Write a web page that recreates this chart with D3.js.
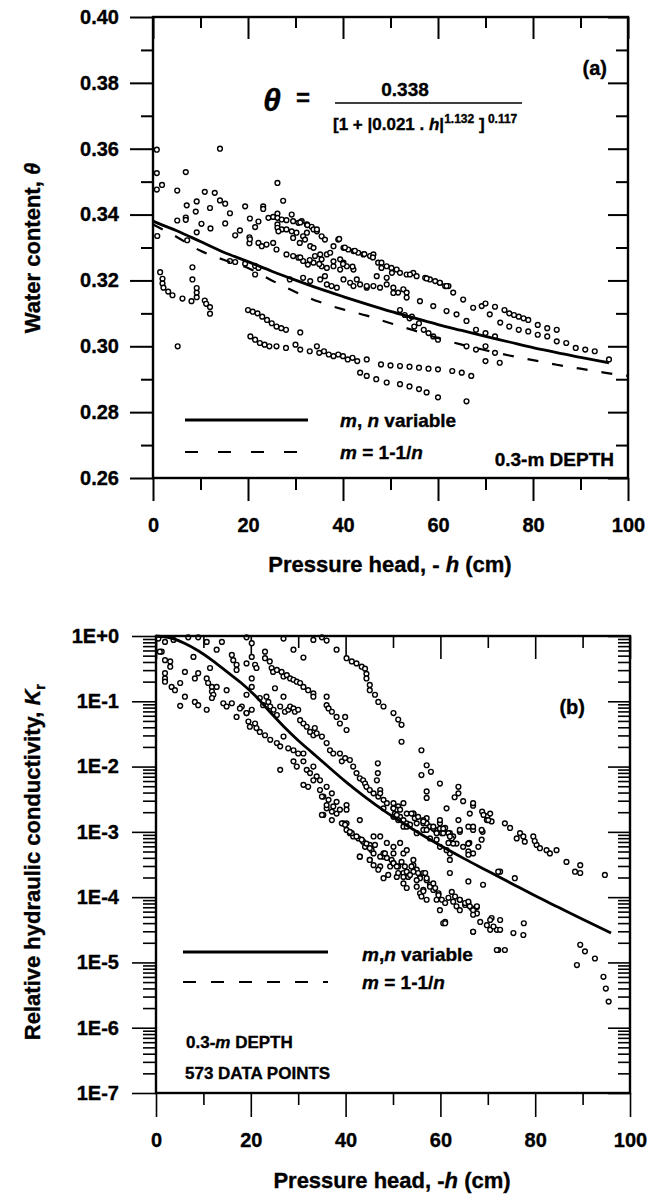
<!DOCTYPE html>
<html><head><meta charset="utf-8">
<script src="https://cdn.jsdelivr.net/npm/d3@7"></script>
<style>
body{margin:0;background:#fff}
svg{display:block}
text{font-family:"Liberation Sans",Arial,sans-serif;font-weight:bold;fill:#000;stroke:#000;stroke-width:0.35px}
</style>
</head><body>
<svg id="c" width="649" height="1196"></svg>
<script>
// ---------------- DATA ----------------
const hTicks = [0,20,40,60,80,100];
const hMinor = [10,30,50,70,90];
const thetaTicks = [0.26,0.28,0.30,0.32,0.34,0.36,0.38,0.40];
const thetaMinor = [0.27,0.29,0.31,0.33,0.35,0.37,0.39];
const kTickExp = [0,-1,-2,-3,-4,-5,-6,-7];
const kTickLabels = ["1E+0","1E-1","1E-2","1E-3","1E-4","1E-5","1E-6","1E-7"];

// panel (a) curves
const curveAh = [0,2,5,10,15,20,25,30,35,40,45,50,55,60,65,70,75,80,85,90,96];
const curveAsolid = [0.338,0.3368,0.3351,0.3318,0.3285,0.3257,0.3228,0.3201,0.3175,0.3151,0.3128,0.3106,0.3086,0.3066,0.3048,0.3030,0.3013,0.2996,0.2981,0.2966,0.2950];
const curveAdh = [0,5,10,15,20,25,30,35,40,45,50,55,60,65,70,75,80,85,90,95,100];
const curveAdashed = [0.337,0.3332,0.3290,0.3262,0.3238,0.3200,0.3165,0.3135,0.3112,0.3093,0.3070,0.3048,0.3025,0.3005,0.2988,0.2972,0.2958,0.2944,0.2932,0.2920,0.2910];

// panel (a) measured points [h, theta]
const pointsA = [
[0.8,.3597],[14.1,.3600],[0.8,.3526],[6.9,.3529],[0.8,.3476],[1.9,.3490],[5.1,.3473],[10.9,.3469],[13.0,.3466],[14.1,.3443],[9.2,.3440],[7.1,.3428],[12.0,.3420],[15.2,.3433],[16.2,.3404],[19.4,.3425],[23.2,.3425],[23.2,.3417],[27.4,.3442],[26.2,.3496],[5.1,.3382],[6.9,.3391],[6.9,.3384],[9.0,.3409],[10.2,.3372],[12.1,.3358],[9.2,.3346],[15.2,.3373],[20.4,.3388],[22.2,.3379],[21.5,.3362],[17.3,.3337],[18.3,.3352],[20.3,.3331],[20.3,.3313],
[0.9,.3335],[1.5,.3225],[2.0,.3205],[2.0,.3191],[2.2,.3178],[3.2,.3166],[4.1,.3155],[6.2,.3145],[7.2,.3322],[8.3,.3240],[8.3,.3203],[8.1,.3137],[9.2,.3149],[9.2,.3163],[9.2,.3177],[10.9,.3139],[11.2,.3129],[12.0,.3119],[12.0,.3099],[5.2,.3000],
[16.2,.3259],[17.3,.3256],[19.4,.3251],[21.5,.3244],[20.4,.3325],[22.2,.3314],[22.9,.3304],[23.9,.3309],[25.3,.3314],[26.0,.3294],[28.1,.3279],[29.5,.3274],[30.6,.3269],[31.6,.3259],[32.6,.3248],[33.8,.3254],[22.2,.3238],[21.5,.3218],[28.8,.3203],[31.6,.3208],[33.1,.3198],[35.2,.3203],
[24.3,.3390],[25.3,.3393],[26.2,.3403],[26.2,.3390],[26.2,.3370],[26.2,.3360],[27.1,.3385],[28.1,.3383],[29.2,.3400],[29.5,.3380],[30.6,.3375],[31.3,.3380],[32.4,.3370],[33.4,.3363],[33.8,.3355],[34.5,.3349],[35.5,.3334],[36.2,.3324],[32.4,.3345],[31.6,.3334],[30.2,.3345],[29.2,.3349],[27.1,.3355],[26.4,.3349],[28.1,.3355],[29.5,.3329],[30.9,.3314],[32.0,.3324],[33.1,.3304],[33.8,.3299],[34.1,.3274],[35.2,.3279],[35.5,.3264],[36.6,.3279],[37.3,.3284],[38.0,.3304],[39.0,.3324],[40.1,.3299],[41.1,.3294],[42.2,.3289],[43.2,.3284],[44.3,.3279],[45.7,.3274],[46.4,.3279],[47.4,.3254],[48.1,.3254],[49.2,.3243],[50.2,.3238],[51.3,.3233],[52.0,.3223],[53.4,.3218],[54.8,.3223],[55.5,.3213],[57.3,.3208],[58.3,.3203],[59.4,.3198],[60.4,.3193],[61.5,.3183],[62.2,.3183],[39.4,.3264],[40.1,.3254],[40.8,.3243],[42.2,.3233],[39.4,.3233],[38.0,.3243],[36.6,.3238],[35.5,.3243],[36.2,.3213],[36.6,.3188],[37.6,.3183],[38.7,.3178],[40.1,.3203],[41.5,.3193],[42.2,.3183],[43.6,.3188],[45.0,.3178],[46.4,.3183],[47.1,.3213],[49.2,.3208],[49.2,.3188],[50.6,.3178],[52.7,.3173],[53.4,.3163],[51.6,.3163],
[31,.3376],[32.5,.3368],[34.5,.3355],[39.2,.3326],[40.4,.3300],[42.5,.3290],[44.5,.3280],[46.3,.3270],[48.1,.3238],[50.3,.3223],[54.1,.3218],[57.6,.3206],[60.4,.3193],[61.8,.3183],[63.2,.3163],[65.3,.3142],[67.4,.3117],[69.2,.3122],[70.9,.3097],[73.1,.3072],
[31,.3270],[33,.3262],[35,.3250],[38,.3258],[40,.3250],[42,.3242],[42.9,.3203],[45,.3183],[47.8,.3178],[50.6,.3162],[53.4,.3148],[56.2,.3137],[59,.3122],[61.8,.3107],[63.9,.3097],[66,.3077],
[52,.3110],[53,.3095],[54,.3085],[55,.3060],[54.5,.3090],[56,.3070],[57,.3050],[58,.3040],[59,.3030],[60,.3020],
[34.5,.3000],[36,.2985],[38,.2970],[40,.2970],[42,.2965],[45,.2960],[48,.2945],[50,.2942],[52,.2940],[54,.2938],[56,.2935],[58,.2932],[60,.2930],[63,.2925],[65,.2920],[67,.2910],
[43.6,.2920],[45,.2910],[47,.2900],[49.2,.2890],[52,.2885],[54,.2878],[56,.2870],[57.6,.2860],[60,.2845],[66,.2833],[31,.3042],
[70,.3000],[72,.2980],[75,.3060],[77,.3050],[79,.3045],[81,.3035],[83,.3030],[85,.3015],[87,.3010],[89,.2995],[91,.2990],[93,.2985],[96,.2960],[75,.3100],[77,.3090],[79,.3080],[81,.3065],[83,.3055],[85,.3050],[70,.3130],[72,.3120],[74,.3110],[76,.3095],[78,.3085],[68,.3050],[70,.3040],[72,.3030],[66,.3000],[68,.2990],[70,.2955],[73,.2950],
[20,.3110],[21,.3105],[22,.3100],[23,.3090],[24,.3080],[25,.3070],[26,.3060],[27,.3055],[28,.3050],[20.5,.3030],[21.5,.3020],[22.5,.3010],[23.5,.3005],[24.5,.3000],[26,.3000],[28,.2995],[30,.3005],[31,.2990],[33,.2985],[35,.2980],[37,.2975],[39,.2975],[41,.2960],[43,.2955]
];

// panel (b) curve: h and log10(Kr)
const curveBh = [0,3,6,9,12,15,18,21,24,27,30,33,36,40,44,48,52,56,60,65,70,75,80,85,90,96];
const curveBlogK = [0,-0.03,-0.11,-0.23,-0.38,-0.55,-0.72,-0.92,-1.16,-1.39,-1.60,-1.79,-1.98,-2.23,-2.46,-2.67,-2.86,-3.04,-3.21,-3.41,-3.60,-3.79,-3.98,-4.16,-4.34,-4.55];

// panel (b) measured points [h, log10(Kr)]
const pointsB = [
[0.5,-0.04],[1.9,-0.09],[3.7,-0.06],[6.8,-0.02],[8.9,-0.02],[10.7,-0.09],[13.9,-0.09],[19.1,-0.02],[20.2,-0.11],[26.9,-0.04],[33.2,-0.06],[35,-0.02],[36,-0.07],[1.2,-0.24],[12.8,-0.21],[29,-0.21],[31.1,-0.33],[38.1,-0.21],
[0.8,-0.24],[1.9,-0.37],[3,-0.39],[3,-0.47],[1.9,-0.57],[1.9,-0.65],[1.9,-0.70],[3.3,-0.78],[4,-0.83],[5.1,-0.72],[6.1,-0.55],[8.2,-0.65],[8.9,-0.57],[10.7,-0.65],[11,-0.72],[11.8,-0.78],[12.8,-0.78],[11.8,-0.85],[12.1,-0.90],[11.8,-0.95],[14.9,-0.83],[11.4,-0.49],[7.9,-0.32],[5.1,-1.07],[6.1,-0.93],[8.2,-1.01],[8.9,-1.06],[10.7,-1.13],[14.2,-1.03],[14.9,-1.08],[16,-1.03],[17,-1.24],[18.1,-1.08],[19.1,-1.18],[20.2,-1.13],
[16,-0.29],[16.3,-0.37],[17,-0.44],[17,-0.52],[19.1,-0.42],[20.2,-0.32],[20.2,-0.65],[20.9,-0.44],[21.2,-0.49],[23,-0.24],[23,-0.34],[24,-0.39],[24.4,-0.49],[24.7,-0.55],[25.5,-0.52],[26.5,-0.55],[26.9,-0.62],[27.6,-0.60],[28.3,-0.65],[29,-0.67],[29.7,-0.70],[30.4,-0.72],[31.1,-0.78],[32.1,-0.83],[33.2,-0.88],[33.2,-0.93],
[40.2,-0.34],[41.3,-0.39],[42.3,-0.42],[43.4,-0.47],[44.1,-0.50],[44.4,-0.58],[44.4,-0.65],[45.1,-0.75],[45.1,-0.83],[46.2,-0.90],[46.9,-1.01],[48,-1.08],[50.1,-1.18],[51.1,-1.28],[51.8,-1.36],[51.8,-1.62],[56,-1.75],[57.1,-1.98],[58,-2.08],[56,-2.13],[59.9,-2.26],[57.1,-2.38],[57.1,-2.48],[63.8,-2.31],[63.8,-2.41],[63,-2.47],[64.8,-2.53],[66.9,-2.60],[68.8,-2.69],[69.9,-2.76],[70.8,-2.84],[73.6,-2.87],[74.7,-2.94],[76.1,-3.10],[76.8,-3.02],[77.5,-3.07],[77.8,-3.15],[79.6,-3.07],[80.3,-3.20],[79.9,-3.14],[81,-3.25],[82.4,-3.28],[84.5,-3.28],[83.1,-3.33],[86.6,-3.46],[88.4,-3.61],[89.5,-3.51],[89.5,-3.63],[94.7,-3.66],[89.5,-4.73],[90.5,-4.83],[92.6,-4.94],[88.8,-5.04],[94.4,-5.22],[94.9,-5.40],[95.5,-5.60],
[47.3,-2.36],[48,-2.64],[48.7,-2.56],[50.1,-2.64],[51.1,-2.61],[50.4,-2.72],[51.5,-2.77],[52.2,-2.56],[52.9,-2.87],[54.3,-2.72],[54.6,-2.79],[56.4,-2.87],[57.1,-2.79],[57.8,-2.92],[58.9,-2.97],[59.9,-2.87],[60.3,-3.02],[61,-2.94],[61.3,-2.64],[62,-3.02],[61.7,-3.17],[62,-3.33],[62,-3.43],[62,-3.63],[64.1,-3.00],[65.9,-2.92],[66.1,-3.17],[65.9,-3.30],[66.9,-3.33],[68,-3.23],[68.9,-3.00],[65.9,-3.76],[69,-3.81],[72.6,-3.61],[75.7,-3.71],[72.2,-3.61],
[47.3,-3.07],[48.7,-3.17],[50.1,-3.23],[51.5,-3.17],[52.2,-3.33],[52.9,-3.28],[54.3,-3.43],[48,-3.38],[49.4,-3.53],[50.8,-3.69],[52.2,-3.63],[54.3,-3.51],[55,-3.58],[55.7,-3.69],[56.4,-3.63],[57.1,-3.74],[57.8,-3.81],[58.5,-3.89],[56.4,-3.89],[59.6,-3.94],[59.2,-4.04],[59.9,-4.20],[61,-4.38],[62.4,-3.92],[63.1,-3.99],[64.1,-4.04],[65.2,-4.12],[65.9,-4.09],[66.6,-4.17],[67.7,-4.15],[67.7,-4.25],[68.4,-4.38],[69.8,-4.43],[70.5,-4.50],[71.9,-4.50],[70.8,-4.32],[72.6,-4.35],[72.2,-4.81],[73.6,-4.81],[75.4,-4.55],[77.5,-4.58],[77.6,-4.40],[66.9,-4.53],[60.6,-4.40],
[19.1,-0.90],[20.2,-0.78],[21.9,-0.95],[22.6,-1.06],[23.3,-0.93],[23.7,-1.01],[24.1,-1.08],[24.8,-1.13],[25.1,-0.80],[25.5,-1.21],[26.2,-1.08],[26.9,-0.93],[27.2,-1.16],[27.9,-1.13],[28.3,-1.08],[29,-1.11],[29.3,-1.16],[30,-1.13],[30.4,-1.29],[31.1,-1.34],[31.8,-1.39],[32.5,-1.47],[33.2,-1.52],[33.5,-1.41],[33.9,-1.49],[35,-1.54],[36,-0.93],[36,-1.06],[36.4,-1.11],[37.1,-1.16],[38.1,-1.24],[38.8,-1.34],[39.9,-1.24],[40.2,-1.44],[36,-1.64],[36.7,-1.75],[37.4,-1.80],[38.8,-1.80],[39.2,-1.92],[39.9,-1.87],[40.9,-1.90],[41.6,-2.00],[42.3,-2.10],[43,-2.18],[43.7,-2.21],[44.1,-2.26],[44.4,-2.31],[45.1,-2.36],[45.9,-2.41],[46.6,-2.21],[46.8,-2.10],[46.8,-1.95],[46.9,-2.46],[47.3,-2.41],[48,-2.51],
[17.7,-1.11],[19.1,-1.18],[19.5,-1.31],[19.8,-1.39],[20.9,-1.34],[21.2,-1.41],[21.9,-1.47],[23,-1.52],[24.1,-1.59],[25.5,-1.64],[26.2,-1.69],[26.9,-1.54],[27.9,-1.72],[29,-1.75],[30,-1.80],[31.1,-1.80],[26.2,-2.05],[29,-1.92],[29.7,-2.00],[31.1,-1.92],[31.8,-2.05],[32.5,-2.10],[33.2,-2.00],[33.9,-2.15],[34.6,-2.21],[33.2,-2.21],[36,-2.31],[31.1,-2.28],[32.1,-2.31],[34.6,-2.36],[35.3,-2.46],[36.4,-2.51],[37.1,-2.41],[37.4,-2.61],[36,-2.64],[38.1,-2.72],[38.8,-2.66],[39.5,-2.87],[40.2,-2.87],[40.2,-2.97],[40.9,-3.02],[41.6,-3.07],[42.7,-3.10],[43.7,-3.15],[44.1,-3.23],[45.1,-3.20],[45.5,-3.28],[45.9,-3.33],[43,-3.38],[45.1,-3.43],[45.9,-3.51],[47.3,-3.38],[48,-3.33],[48.7,-3.40],[49.7,-3.43],[50.1,-3.48],[51.1,-3.53],[51.8,-3.46],[52.5,-3.53],[52.9,-3.61],[53.2,-3.69],[54.3,-3.61],[55.3,-3.63],[55.7,-3.71],[56.8,-3.63],[57.1,-3.71],[35.3,-2.74],[37.1,-2.82],[35,-2.46],
[50.1,-2.56],[50.8,-2.66],[51.5,-2.66],[52.9,-2.72],[54.3,-2.72],[55.3,-2.77],[56.4,-2.82],[57.1,-2.87],[57.8,-2.92],[58.5,-2.95],[59.9,-2.95],[60.6,-3.02],[61.7,-3.02],[62.7,-3.07],[50.1,-2.77],[51.1,-2.82],[52.2,-2.92],[53.6,-2.89],[55,-3.02],[56.4,-2.97],[57.8,-3.10],[59.2,-3.12],[59.9,-3.23],[61.3,-3.28],[62.4,-3.10],[63.4,-3.18],[64.8,-3.23],[65.9,-3.18],[66.9,-2.97],[68.7,-3.12],[70.5,-2.72],[69.8,-2.82],
[35,-2.74],[36,-2.59],[37.1,-2.69],[38.1,-2.54],[40.2,-2.59],[40.2,-2.66],[39.2,-2.87],[39.9,-2.89],[43,-2.82],[41.3,-3.02],[40.9,-3.00],[42.3,-3.07],[43.4,-3.12],[44.4,-3.18],[43,-3.38],[45.1,-3.25],[45.1,-3.43],[45.9,-3.07],[46.2,-3.20],[47.3,-3.53],[46.9,-3.58],[48,-3.71],[49,-3.66],[48.3,-3.33],[50.1,-3.33],[50.1,-3.48],[50.8,-3.53],[51.1,-3.63],[52.2,-3.69],[52.2,-3.79],[52.9,-3.86],[53.6,-3.66],[53.9,-3.53],[55,-3.74],[55,-3.84],[55.7,-3.94],[56,-3.99],[56.4,-3.91],[57.1,-4.04],[57.8,-3.84],[58.5,-3.79],[58.9,-3.86],[59.6,-3.97],[60.3,-4.04],[61,-4.09],[61.7,-4.01],[62.7,-4.07],[63.4,-4.14],[64.1,-4.20],[65.2,-4.09],[66.2,-4.14],[66.9,-4.20],[67.7,-4.14],[66.9,-4.27],[61,-4.40],[64.1,-4.04],[65.9,-4.07],[66.9,-4.53],[70.5,-4.35],[71.2,-4.45],[72.6,-4.50],[71.9,-4.81],
[50.1,-2.64],[50.8,-2.74],[52.2,-2.82],[52.9,-2.92],[53.9,-2.72],[55,-2.87],[56.4,-2.84],[57.1,-2.97],[58.5,-2.92],[59.2,-3.02],[59.9,-2.82],[60.6,-2.95],[62,-3.07],[62.7,-3.18],[63.8,-2.82],[64.1,-2.97],[65.9,-3.18],[65.9,-3.35],[66.9,-2.92],[68.7,-2.97],[69.1,-2.74],[70.1,-2.82],[66.9,-2.56],[66.2,-2.72]
];

// ---------------- DRAW ----------------
const svg = d3.select("#c");
const FONT = 20;

function styleAxis(g){
  g.select(".domain").remove();
  g.selectAll("line").attr("stroke","#000").attr("stroke-width",2);
  g.selectAll("text").style("font-size",FONT+"px").style("font-weight","bold");
}

function frame(x0,x1,y0,y1){
  svg.append("rect").attr("x",x0).attr("y",y0).attr("width",x1-x0).attr("height",y1-y0)
    .attr("fill","none").attr("stroke","#000").attr("stroke-width",2.4);
}

// ===== Panel (a) =====
const xA = d3.scaleLinear().domain([0,100]).range([153,628]);
const yA = d3.scaleLinear().domain([0.26,0.40]).range([478,17]);
const gA = svg.append("g");

gA.append("g").attr("transform",`translate(${xA(0)},0)`)
  .call(d3.axisLeft(yA).tickValues(thetaTicks).tickSize(23).tickPadding(11).tickFormat(d3.format(".2f"))).call(styleAxis);
gA.append("g").attr("transform",`translate(${xA(0)},0)`)
  .call(d3.axisLeft(yA).tickValues(thetaMinor).tickSize(12).tickFormat("")).call(styleAxis);
gA.append("g").attr("transform",`translate(${xA(100)},0)`)
  .call(d3.axisLeft(yA).tickValues(thetaTicks).tickSize(20).tickFormat("")).call(styleAxis);
gA.append("g").attr("transform",`translate(${xA(100)},0)`)
  .call(d3.axisLeft(yA).tickValues(thetaMinor).tickSize(12).tickFormat("")).call(styleAxis);
gA.append("g").attr("transform",`translate(0,${yA(0.26)})`)
  .call(d3.axisBottom(xA).tickValues(hTicks).tickSize(23).tickPadding(17).tickFormat(d3.format("d"))).call(styleAxis);
gA.append("g").attr("transform",`translate(0,${yA(0.26)})`)
  .call(d3.axisBottom(xA).tickValues(hMinor).tickSize(12).tickFormat("")).call(styleAxis);
gA.append("g").attr("transform",`translate(0,${yA(0.40)})`)
  .call(d3.axisBottom(xA).tickValues(hTicks).tickSize(22).tickFormat("")).call(styleAxis);
gA.append("g").attr("transform",`translate(0,${yA(0.40)})`)
  .call(d3.axisBottom(xA).tickValues(hMinor).tickSize(11).tickFormat("")).call(styleAxis);
frame(xA(0),xA(100),yA(0.40),yA(0.26));

gA.append("g").selectAll("circle").data(pointsA).join("circle")
  .attr("cx",d=>xA(d[0])).attr("cy",d=>yA(d[1])).attr("r",2.4)
  .attr("fill","#fff").attr("stroke","#000").attr("stroke-width",1.4);

const lineA = d3.line().x(d=>xA(d[0])).y(d=>yA(d[1])).curve(d3.curveMonotoneX);
gA.append("path").attr("d",lineA(curveAh.map((h,i)=>[h,curveAsolid[i]])))
  .attr("fill","none").attr("stroke","#000").attr("stroke-width",2.8);
gA.append("path").attr("d",lineA(curveAdh.map((h,i)=>[h,curveAdashed[i]])))
  .attr("fill","none").attr("stroke","#000").attr("stroke-width",2.2).attr("stroke-dasharray","11,14");

// legend (a)
gA.append("line").attr("x1",185).attr("x2",308).attr("y1",420).attr("y2",420).attr("stroke","#000").attr("stroke-width",2.8);
gA.append("line").attr("x1",185).attr("x2",308).attr("y1",452).attr("y2",452).attr("stroke","#000").attr("stroke-width",2.2).attr("stroke-dasharray","13,20");
const tA1 = gA.append("text").attr("x",340).attr("y",427).style("font-size","19px");
tA1.append("tspan").style("font-style","italic").text("m");
tA1.append("tspan").text(", ");
tA1.append("tspan").style("font-style","italic").text("n");
tA1.append("tspan").text(" variable");
const tA2 = gA.append("text").attr("x",340).attr("y",459).style("font-size","19px");
tA2.append("tspan").style("font-style","italic").text("m");
tA2.append("tspan").text(" = 1-1/");
tA2.append("tspan").style("font-style","italic").text("n");
gA.append("text").attr("x",614).attr("y",466).attr("text-anchor","end").style("font-size","19px").text("0.3-m DEPTH");
gA.append("text").attr("x",607).attr("y",75).attr("text-anchor","end").style("font-size","20px").text("(a)");

// equation
gA.append("text").attr("x",272).attr("y",111).attr("text-anchor","middle").style("font-size","32px").style("font-style","italic").text("θ");
gA.append("text").attr("x",303).attr("y",106).attr("text-anchor","middle").style("font-size","24px").text("=");
gA.append("line").attr("x1",335).attr("x2",522).attr("y1",103).attr("y2",103).attr("stroke","#000").attr("stroke-width",1.6);
gA.append("text").attr("x",405).attr("y",96).attr("text-anchor","middle").style("font-size","19px").text("0.338");
const den = gA.append("text").attr("x",333).attr("y",130).style("font-size","17px");
den.append("tspan").text("[1 + |0.021 . ");
den.append("tspan").style("font-style","italic").text("h");
den.append("tspan").text("|");
den.append("tspan").attr("dy",-7).style("font-size","12px").text("1.132");
den.append("tspan").attr("dy",7).text(" ]");
den.append("tspan").attr("dy",-7).style("font-size","12px").text(" 0.117");

const ytA = gA.append("text").attr("transform","translate(40,248) rotate(-90)").attr("text-anchor","middle").style("font-size","22px");
ytA.append("tspan").text("Water content, ");
ytA.append("tspan").style("font-style","italic").text("θ");
const xtA = gA.append("text").attr("x",390).attr("y",572).attr("text-anchor","middle").style("font-size","22px");
xtA.append("tspan").text("Pressure head, - ");
xtA.append("tspan").style("font-style","italic").text("h");
xtA.append("tspan").text(" (cm)");

// ===== Panel (b) =====
const xB = d3.scaleLinear().domain([0,100]).range([156,630]);
const yB = d3.scaleLog().domain([1e-7,1]).range([1093,636]);
const gB = svg.append("g");
const majorK = kTickExp.map(e=>Math.pow(10,e));
const minorK = [];
kTickExp.slice(1).forEach(e=>{ for(let m=2;m<=9;m++) minorK.push(m*Math.pow(10,e)); });
const kLabel = d=>kTickLabels[kTickExp.indexOf(Math.round(Math.log10(d)))];

gB.append("g").attr("transform",`translate(${xB(0)},0)`)
  .call(d3.axisLeft(yB).tickValues(majorK).tickSize(24).tickPadding(13).tickFormat(kLabel)).call(styleAxis);
gB.append("g").attr("transform",`translate(${xB(0)},0)`)
  .call(d3.axisLeft(yB).tickValues(minorK).tickSize(13).tickFormat("")).call(styleAxis);
gB.append("g").attr("transform",`translate(${xB(100)},0)`)
  .call(d3.axisLeft(yB).tickValues(majorK).tickSize(22).tickFormat("")).call(styleAxis);
gB.append("g").attr("transform",`translate(${xB(100)},0)`)
  .call(d3.axisLeft(yB).tickValues(minorK).tickSize(12).tickFormat("")).call(styleAxis);
gB.append("g").attr("transform",`translate(0,${yB(1e-7)})`)
  .call(d3.axisBottom(xB).tickValues(hTicks).tickSize(24).tickPadding(16).tickFormat(d3.format("d"))).call(styleAxis);
gB.append("g").attr("transform",`translate(0,${yB(1e-7)})`)
  .call(d3.axisBottom(xB).tickValues(hMinor).tickSize(12).tickFormat("")).call(styleAxis);
gB.append("g").attr("transform",`translate(0,${yB(1)})`)
  .call(d3.axisBottom(xB).tickValues(hTicks).tickSize(23).tickFormat("")).call(styleAxis);
gB.append("g").attr("transform",`translate(0,${yB(1)})`)
  .call(d3.axisBottom(xB).tickValues(hMinor).tickSize(12).tickFormat("")).call(styleAxis);
gB.selectAll("g.tick line").attr("stroke-width",1.6);
frame(xB(0),xB(100),yB(1),yB(1e-7));

gB.append("g").selectAll("circle").data(pointsB).join("circle")
  .attr("cx",d=>xB(d[0])).attr("cy",d=>yB(Math.pow(10,d[1]))).attr("r",2.4)
  .attr("fill","#fff").attr("stroke","#000").attr("stroke-width",1.4);

const lineB = d3.line().x(d=>xB(d[0])).y(d=>yB(Math.pow(10,d[1]))).curve(d3.curveMonotoneX);
gB.append("path").attr("d",lineB(curveBh.map((h,i)=>[h,curveBlogK[i]])))
  .attr("fill","none").attr("stroke","#000").attr("stroke-width",2.8);

// legend (b)
gB.append("line").attr("x1",183).attr("x2",328).attr("y1",952).attr("y2",952).attr("stroke","#000").attr("stroke-width",2.8);
gB.append("line").attr("x1",183).attr("x2",328).attr("y1",982).attr("y2",982).attr("stroke","#000").attr("stroke-width",2.2).attr("stroke-dasharray","13,15");
const tB1 = gB.append("text").attr("x",362).attr("y",961).style("font-size","19px");
tB1.append("tspan").style("font-style","italic").text("m");
tB1.append("tspan").text(",");
tB1.append("tspan").style("font-style","italic").text("n");
tB1.append("tspan").text(" variable");
const tB2 = gB.append("text").attr("x",362).attr("y",989).style("font-size","19px");
tB2.append("tspan").style("font-style","italic").text("m");
tB2.append("tspan").text(" = 1-1/");
tB2.append("tspan").style("font-style","italic").text("n");
const tB3 = gB.append("text").attr("x",186).attr("y",1048).style("font-size","17px");
tB3.append("tspan").text("0.3-");
tB3.append("tspan").style("font-style","italic").text("m");
tB3.append("tspan").text(" DEPTH");
gB.append("text").attr("x",185).attr("y",1079).style("font-size","17px").text("573 DATA POINTS");
gB.append("text").attr("x",585).attr("y",714).attr("text-anchor","end").style("font-size","20px").text("(b)");

const ytB = gB.append("text").attr("transform","translate(40,862) rotate(-90)").attr("text-anchor","middle").style("font-size","22px");
ytB.append("tspan").text("Relative hydraulic conductivity, ");
ytB.append("tspan").style("font-style","italic").text("K");
ytB.append("tspan").attr("dy",5).style("font-size","15px").text("r");
const xtB = gB.append("text").attr("x",392).attr("y",1188).attr("text-anchor","middle").style("font-size","22px");
xtB.append("tspan").text("Pressure head, -");
xtB.append("tspan").style("font-style","italic").text("h");
xtB.append("tspan").text("  (cm)");
</script>
</body></html>
